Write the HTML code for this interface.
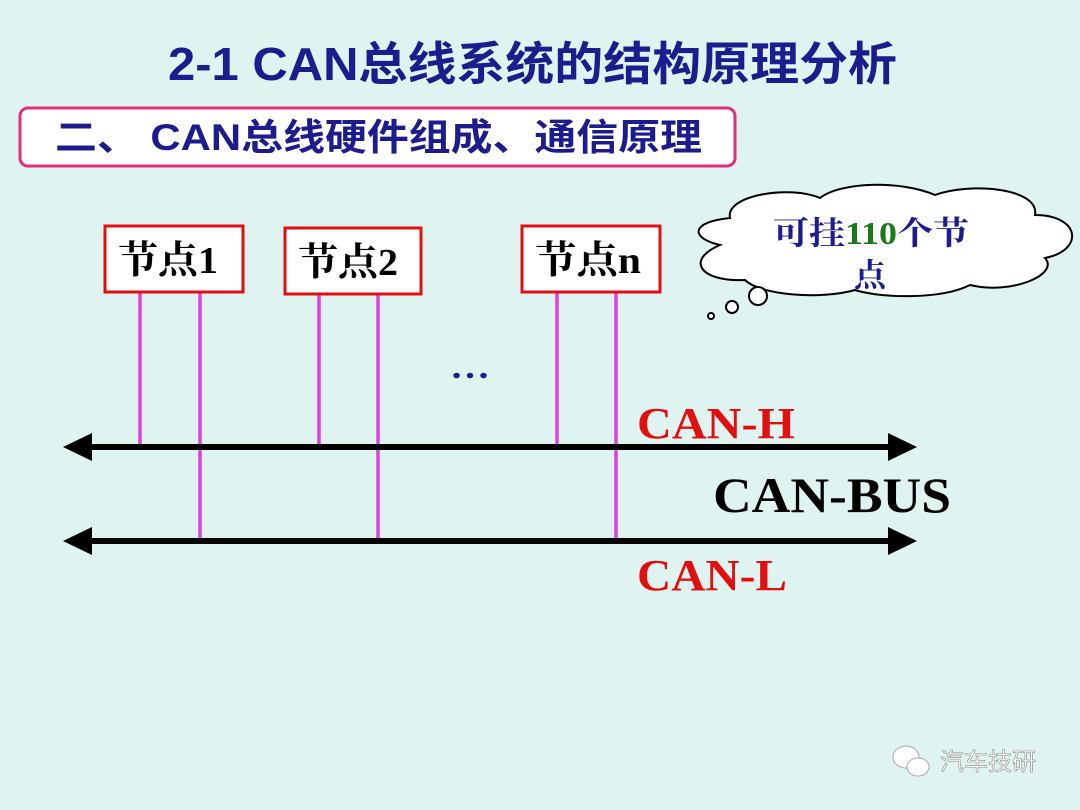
<!DOCTYPE html>
<html><head><meta charset="utf-8"><style>
html,body{margin:0;padding:0;background:#dff3f0;}
svg{display:block}
.sans{font-family:"Liberation Sans","Noto Sans CJK SC",sans-serif;font-weight:bold}
.serif{font-family:"Liberation Serif","Noto Serif CJK SC",serif;font-weight:bold}
</style></head><body>
<svg width="1080" height="810" viewBox="0 0 1080 810" xmlns="http://www.w3.org/2000/svg">
<rect width="1080" height="810" fill="#dff3f0"/>
<text x="168" y="80" textLength="729" lengthAdjust="spacingAndGlyphs" class="sans" font-size="46" fill="#1c1c8e">2-1  CAN总线系统的结构原理分析</text>
<rect x="20" y="108" width="715" height="58" rx="8" fill="#fff" stroke="#e0307a" stroke-width="3"/>
<text x="55" y="150" textLength="647" lengthAdjust="spacingAndGlyphs" class="sans" font-size="37" fill="#1c1c8e">二、 CAN总线硬件组成、通信原理</text>

<g stroke="#e040e0" stroke-width="3.5">
<line x1="140" y1="292" x2="140" y2="445"/><line x1="200" y1="292" x2="200" y2="539"/>
<line x1="319" y1="294" x2="319" y2="445"/><line x1="378" y1="294" x2="378" y2="539"/>
<line x1="557" y1="292" x2="557" y2="445"/><line x1="616" y1="292" x2="616" y2="539"/>
</g>
<g fill="#fff" stroke="#e01010" stroke-width="3">
<rect x="105" y="226" width="138" height="66"/>
<rect x="285" y="228" width="136" height="66"/>
<rect x="522" y="226" width="138" height="66"/>
</g>
<g class="serif" font-size="38" fill="#000">
<text x="118" y="273" textLength="100" lengthAdjust="spacingAndGlyphs">节点1</text>
<text x="298" y="275" textLength="100" lengthAdjust="spacingAndGlyphs">节点2</text>
<text x="535" y="273" textLength="106" lengthAdjust="spacingAndGlyphs">节点n</text>
</g>
<text x="450" y="378" textLength="40" lengthAdjust="spacingAndGlyphs" class="serif" font-size="34" fill="#1c1c8e">…</text>

<g stroke="#000" stroke-width="6">
<line x1="85" y1="447" x2="895" y2="447"/>
<line x1="85" y1="541" x2="895" y2="541"/>
</g>
<g fill="#000">
<polygon points="63,447 92,433 92,461"/><polygon points="917,447 888,433 888,461"/>
<polygon points="63,541 92,527 92,555"/><polygon points="917,541 888,527 888,555"/>
</g>
<text x="637" y="438" textLength="158" lengthAdjust="spacingAndGlyphs" class="serif" font-size="44" fill="#e01010">CAN-H</text>
<text x="713" y="512" textLength="238" lengthAdjust="spacingAndGlyphs" class="serif" font-size="50" fill="#000">CAN-BUS</text>
<text x="637" y="590" textLength="150" lengthAdjust="spacingAndGlyphs" class="serif" font-size="44" fill="#e01010">CAN-L</text>

<g fill="#fff" stroke="#000" stroke-width="2">
<path d="M720,245 C690,238 690,222 730,218 C725,195 790,185 820,198 C840,182 900,180 935,195 C970,182 1040,188 1035,215 C1080,215 1085,250 1045,258 C1060,275 1010,295 970,285 C940,300 880,298 855,290 C820,300 760,295 745,280 C700,282 685,260 720,245 Z"/>
<circle cx="758" cy="296" r="9"/><circle cx="732" cy="307" r="6"/><circle cx="711" cy="316" r="3"/>
</g>
<text x="773" y="244" textLength="196" lengthAdjust="spacingAndGlyphs" class="serif" font-size="32" fill="#1c1c8e">可挂<tspan fill="#1a7a1a">110</tspan>个节</text>
<text x="854" y="286" class="serif" font-size="32" fill="#1c1c8e">点</text>

<g fill="#fff" stroke="#aaa" stroke-width="1">
<ellipse cx="906" cy="757" rx="13" ry="11"/><ellipse cx="918" cy="767" rx="11" ry="9"/>
</g>
<text x="940" y="770" font-family="Liberation Sans,Noto Sans CJK SC,sans-serif" font-size="24" fill="#fff" stroke="#888" stroke-width="0.6">汽车技研</text>
</svg>
</body></html>
